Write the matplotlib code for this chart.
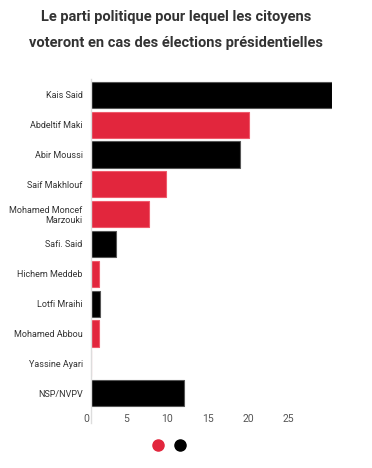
import matplotlib
matplotlib.use("Agg")
import matplotlib.pyplot as plt
import matplotlib.transforms as mtransforms
from matplotlib.lines import Line2D

plt.rcParams['font.family'] = ['Roboto', 'DejaVu Sans']

# Data
candidates = ["Kais Said", "Abdeltif Maki", "Abir Moussi", "Saif Makhlouf",
              "Mohamed Moncef\nMarzouki", "Safi. Said", "Hichem Meddeb",
              "Lotfi Mraihi", "Mohamed Abbou", "Yassine Ayari", "NSP/NVPV"]
values = [29.7, 19.5, 18.4, 9.3, 7.2, 3.1, 1.0, 1.1, 1.0, 0.0, 11.4]
groups = ["black", "red", "black", "red", "red", "black", "red", "black", "red", "red", "black"]
ticks = [0, 5, 10, 15, 20, 25]

red = "#e2263d"
black = "#000000"
face = {"red": red, "black": black}
edge = {"red": "#ef5a6b", "black": "#555555"}

W, H = 372, 468
fig = plt.figure(figsize=(W / 100, H / 100), dpi=100)
ax = fig.add_axes([91 / W, 1 - 408 / H, (332 - 91) / W, (408 - 80) / H])

ypos = list(range(len(candidates)))
ax.barh(ypos, values, height=0.88,
        color=[face[g] for g in groups],
        edgecolor=[edge[g] for g in groups], linewidth=0.8)

ax.set_ylim(len(candidates) - 0.5, -0.5)
ax.set_xlim(0, max(values))
ax.set_yticks(ypos)
ax.set_yticklabels(candidates, fontsize=6.5, color="#333333", linespacing=1.15)
ax.set_xticks(ticks)
ax.set_xticklabels([str(t) for t in ticks], fontsize=7.5, color="#555555")
ax.tick_params(axis="both", length=0)
ax.tick_params(axis="y", pad=6)
ax.tick_params(axis="x", pad=4)

# x labels sit a little left of their ticks in the original
shift = mtransforms.ScaledTranslation(-5 / 100, 0, fig.dpi_scale_trans)
for lab in ax.get_xticklabels():
    lab.set_transform(lab.get_transform() + shift)

for s in ["top", "right", "bottom", "left"]:
    ax.spines[s].set_visible(False)
ax.plot([0, 0], [1.003, -0.045], transform=ax.transAxes, clip_on=False,
        color="#dddddd", linewidth=1)

fig.text(176 / W, 1 - 17 / H, "Le parti politique pour lequel les citoyens",
         ha="center", va="center", fontsize=10.5, fontweight="bold", color="#333333")
fig.text(176 / W, 1 - 43 / H, "voteront en cas des élections présidentielles",
         ha="center", va="center", fontsize=10.5, fontweight="bold", color="#333333")

handles = [Line2D([], [], marker="o", linestyle="none", markersize=8,
                  markerfacecolor=c, markeredgecolor=c) for c in [red, black]]
fig.legend(handles, ["", ""], loc="center", bbox_to_anchor=(169 / W, 1 - 446 / H),
           ncol=2, frameon=False, handlelength=1, handletextpad=0, columnspacing=0.6)

fig.savefig("out.png", dpi=100)
